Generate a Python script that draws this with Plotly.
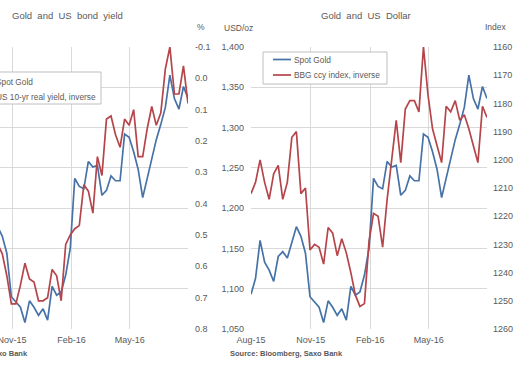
import plotly.graph_objects as go
import pandas as pd

# ---------------- data ----------------
dates = pd.date_range("2015-08-07", periods=53, freq="7D")

spot_gold = [1093, 1113, 1160, 1133, 1123, 1109, 1140, 1146, 1138, 1158,
             1177, 1165, 1144, 1090, 1083, 1077, 1058, 1085, 1077, 1067,
             1075, 1061, 1103, 1092, 1096, 1117, 1150, 1237, 1227, 1224,
             1258, 1251, 1253, 1216, 1222, 1240, 1234, 1234, 1292, 1288,
             1270, 1248, 1213, 1236, 1262, 1285, 1304, 1325, 1365, 1336,
             1323, 1351, 1336]

real_yield_10y = [0.52, 0.50, 0.48, 0.55, 0.60, 0.62, 0.58, 0.56, 0.60, 0.58,
                  0.53, 0.56, 0.63, 0.72, 0.72, 0.66, 0.59, 0.64, 0.65, 0.71,
                  0.71, 0.70, 0.61, 0.63, 0.71, 0.53, 0.50, 0.48, 0.47, 0.34,
                  0.36, 0.43, 0.25, 0.31, 0.13, 0.12, 0.18, 0.22, 0.13, 0.15,
                  0.10, 0.25, 0.25, 0.16, 0.09, 0.15, 0.11, -0.03, -0.10, 0.05,
                  0.05, -0.04, 0.08]

bbg_ccy_index = [1212, 1208, 1200, 1208, 1214, 1205, 1202, 1214, 1208, 1192,
                 1190, 1212, 1210, 1232, 1230, 1231, 1237, 1224, 1226, 1234,
                 1228, 1233, 1240, 1248, 1252, 1251, 1229, 1219, 1220, 1231,
                 1214, 1200, 1186, 1201, 1182, 1179, 1179, 1183, 1160, 1177,
                 1189, 1195, 1201, 1181, 1183, 1179, 1186, 1184, 1189, 1195,
                 1201, 1181, 1185]

month_ticks = ["2015-08-07", "2015-11-07", "2016-02-07", "2016-05-07"]
month_labels = ["Aug-15", "Nov-15", "Feb-16", "May-16"]
gold_ticks = [1050, 1100, 1150, 1200, 1250, 1300, 1350, 1400]
gold_labels = ["1,050", "1,100", "1,150", "1,200", "1,250", "1,300", "1,350", "1,400"]
yield_ticks = [-0.1, 0.0, 0.1, 0.2, 0.3, 0.4, 0.5, 0.6, 0.7, 0.8]
yield_labels = ["-0.1", "0.0", "0.1", "0.2", "0.3", "0.4", "0.5", "0.6", "0.7", "0.8"]
index_ticks = [1160, 1170, 1180, 1190, 1200, 1210, 1220, 1230, 1240, 1250, 1260]

# ---------------- styling ----------------
W, H = 530, 365
PT, PB = 47, 329
BLUE = "#4672A8"
RED = "#B5454A"
GRID = "#d9d9d9"
TXT = "#595959"
FONT = "Liberation Sans, Arial, sans-serif"


def px(x):
    return x / W


def py(y):
    return (PB - y) / (PB - PT)


fig = go.Figure()
fig.add_trace(go.Scatter(x=dates, y=spot_gold, xaxis="x", yaxis="y", mode="lines",
                         line=dict(color=BLUE, width=1.7), name="Spot Gold", showlegend=False))
fig.add_trace(go.Scatter(x=dates, y=real_yield_10y, xaxis="x", yaxis="y2", mode="lines",
                         line=dict(color=RED, width=1.7), name="US 10-yr real yield, inverse",
                         showlegend=False))
fig.add_trace(go.Scatter(x=dates, y=spot_gold, xaxis="x2", yaxis="y3", mode="lines",
                         line=dict(color=BLUE, width=1.7), name="Spot Gold", showlegend=False))
fig.add_trace(go.Scatter(x=dates, y=bbg_ccy_index, xaxis="x2", yaxis="y4", mode="lines",
                         line=dict(color=RED, width=1.7), name="BBG ccy index, inverse",
                         showlegend=False))

tickfont = dict(family=FONT, size=9, color=TXT)

xcommon = dict(type="date", tickvals=month_ticks, ticktext=month_labels, showgrid=True,
               gridcolor=GRID, gridwidth=1, zeroline=False, showline=False, ticks="",
               tickfont=tickfont, ticklabelstandoff=4, ticklabeloverflow="allow")

fig.update_layout(
    width=W, height=H, autosize=False,
    margin=dict(l=0, r=0, t=PT, b=H - PB, pad=0, autoexpand=False),
    paper_bgcolor="white", plot_bgcolor="white",
    font=dict(family=FONT, color=TXT),
    xaxis=dict(domain=[0, px(188)], range=["2015-10-19 11:00", "2016-08-05"], anchor="y", **xcommon),
    yaxis=dict(domain=[0, 1], range=[1050, 1400], tickvals=gold_ticks, showticklabels=False,
               showgrid=True, gridcolor=GRID, zeroline=False, anchor="x", ticks=""),
    yaxis2=dict(overlaying="y", side="right", anchor="x", range=[0.8, -0.1],
                tickvals=yield_ticks, ticktext=yield_labels, showgrid=False, zeroline=False,
                ticks="", tickfont=tickfont, ticklabelstandoff=6, ticklabeloverflow="allow"),
    xaxis2=dict(domain=[px(251), px(487)], range=["2015-08-07", "2016-08-05"], anchor="y3", **xcommon),
    yaxis3=dict(domain=[0, 1], range=[1050, 1400], tickvals=gold_ticks, ticktext=gold_labels,
                showgrid=True, gridcolor=GRID, zeroline=False, anchor="x2", ticks="",
                tickfont=tickfont, ticklabelstandoff=6, ticklabeloverflow="allow"),
    yaxis4=dict(overlaying="y3", side="right", anchor="x2", range=[1260, 1160],
                tickvals=index_ticks, showgrid=False, zeroline=False, ticks="",
                tickfont=tickfont, ticklabelstandoff=5, ticklabeloverflow="allow"),
)

ann = []


def text(x, y, s, size=9, xanchor="center", bold=False):
    ann.append(dict(x=px(x), y=py(y), xref="paper", yref="paper", text=("<b>%s</b>" % s) if bold else s,
                    showarrow=False, xanchor=xanchor, yanchor="middle",
                    font=dict(family=FONT, size=size, color=TXT)))


text(67, 15, "Gold  and  US  bond  yield", size=9.5)
text(366, 15, "Gold  and  US  Dollar", size=9.5)
text(201, 27, "%", size=8.5)
text(238, 28, "USD/oz", size=8.5)
text(496, 27, "Index", size=8.5)
text(30, 353, "Source: Bloomberg, Saxo Bank", size=7.5, xanchor="right", bold=True)
text(228, 353, "Source: Bloomberg, Saxo Bank", size=7.5, xanchor="left", bold=True)

shapes = []
# legend – left panel (partly cropped)
shapes.append(dict(type="rect", xref="paper", yref="paper", x0=px(-40), x1=px(101), y0=py(104), y1=py(72),
                   line=dict(color="#bfbfbf", width=1), fillcolor="white", layer="above"))
shapes.append(dict(type="line", xref="paper", yref="paper", x0=px(-30), x1=px(-10), y0=py(82), y1=py(82),
                   line=dict(color=BLUE, width=1.7), layer="above"))
shapes.append(dict(type="line", xref="paper", yref="paper", x0=px(-30), x1=px(-10), y0=py(97), y1=py(97),
                   line=dict(color=RED, width=1.7), layer="above"))
text(-6.5, 82, "Spot Gold", size=8.3, xanchor="left")
text(-6.5, 97, "US 10-yr real yield, inverse", size=8.3, xanchor="left")

# legend – right panel
shapes.append(dict(type="rect", xref="paper", yref="paper", x0=px(263), x1=px(387), y0=py(84), y1=py(52),
                   line=dict(color="#bfbfbf", width=1), fillcolor="white", layer="above"))
shapes.append(dict(type="line", xref="paper", yref="paper", x0=px(273), x1=px(291), y0=py(59.5), y1=py(59.5),
                   line=dict(color=BLUE, width=1.7), layer="above"))
shapes.append(dict(type="line", xref="paper", yref="paper", x0=px(273), x1=px(291), y0=py(75), y1=py(75),
                   line=dict(color=RED, width=1.7), layer="above"))
text(292, 59.5, "Spot Gold", size=8.3, xanchor="left")
text(292, 75, "BBG ccy index, inverse", size=8.3, xanchor="left")

fig.update_layout(annotations=ann, shapes=shapes)
fig.write_html("out.html", config={"displayModeBar": False},
               post_script="document.body.style.margin='0';document.body.style.overflow='hidden';")
